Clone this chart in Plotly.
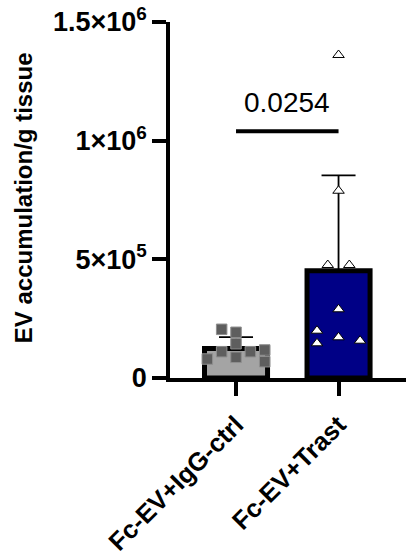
import numpy as np
import plotly.graph_objects as go

# Groups and measured EV accumulation per gram of tissue
categories = ["Fc-EV+IgG-ctrl", "Fc-EV+Trast"]
igg_ctrl = [205200, 192600, 144500, 110800, 110800, 118000, 80000, 87200, 68700]
trast = [1361000, 789000, 476000, 476000, 289500, 199300, 171500, 146200, 157200]

# Horizontal spread of the individual points within each bar (category units)
igg_jitter = [-0.14, 0.0, 0.0, -0.14, 0.14, 0.28, -0.28, 0.0, 0.28]
trast_jitter = [0.0, 0.0, -0.105, 0.105, 0.0, -0.21, 0.0, -0.21, 0.21]

p_value_text = "0.0254"
y_tickvals = [0, 5e5, 1e6, 1.5e6]
y_ticktext = ["0", "5×10<sup>5</sup>", "1×10<sup>6</sup>", "1.5×10<sup>6</sup>"]
y_title = "EV accumulation/g tissue"

groups = [igg_ctrl, trast]
means = [float(np.mean(g)) for g in groups]
sds = [float(np.std(g, ddof=1)) for g in groups]

FONT = "Arial, 'Liberation Sans', sans-serif"
bar_fills = ["#a4a4a4", "#000086"]

fig = go.Figure()

fig.add_trace(go.Bar(
    x=[0, 1],
    y=means,
    width=0.615,
    marker=dict(color=bar_fills, line=dict(color="black", width=5)),
    error_y=dict(type="data", symmetric=False, array=sds, arrayminus=[0, 0],
                 color="black", thickness=1.8, width=17),
    showlegend=False,
))

fig.add_trace(go.Scatter(
    x=[0 + j for j in igg_jitter],
    y=igg_ctrl,
    mode="markers",
    marker=dict(symbol="square", size=10.5, color="#5e5e5e",
                line=dict(color="#8e8e8e", width=1)),
    cliponaxis=False,
    showlegend=False,
))

fig.add_trace(go.Scatter(
    x=[1 + j for j in trast_jitter],
    y=trast,
    mode="markers",
    marker=dict(symbol="triangle-up", size=10, color="white",
                line=dict(color="black", width=1)),
    cliponaxis=False,
    showlegend=False,
))

# Significance bracket between the two groups
bracket_y = 1.04e6
fig.add_shape(type="line", xref="x", yref="y", x0=0, x1=1, y0=bracket_y, y1=bracket_y,
              line=dict(color="black", width=4))
fig.add_annotation(x=0.5, y=bracket_y, xref="x", yref="y", text=p_value_text,
                   showarrow=False, yanchor="bottom", yshift=11,
                   font=dict(family=FONT, size=28, color="black"))

# Rotated y-axis title
fig.add_annotation(x=-0.62, y=0.507, xref="paper", yref="paper", text=f"<b>{y_title}</b>",
                   textangle=-90, showarrow=False, xanchor="center", yanchor="middle",
                   font=dict(family=FONT, size=24, color="black"))

fig.update_layout(
    width=406, height=557,
    margin=dict(l=170, r=0, t=22, b=179),
    paper_bgcolor="white", plot_bgcolor="white",
    xaxis=dict(
        range=[-0.644, 1.658], tickvals=[0, 1],
        ticktext=[f"<b>{c}</b>" for c in categories],
        tickangle=-45, showgrid=False, zeroline=False, automargin=False,
        showline=True, linecolor="black", linewidth=3.5,
        ticks="outside", ticklen=14, tickwidth=3.5, tickcolor="black",
        ticklabelstandoff=4,
        tickfont=dict(family=FONT, size=25.5, color="black"),
    ),
    yaxis=dict(
        range=[0, 1.5e6], tickvals=y_tickvals, ticktext=[f"<b>{t}</b>" for t in y_ticktext],
        showgrid=False, zeroline=False, automargin=False,
        showline=True, linecolor="black", linewidth=3.5,
        ticks="outside", ticklen=14, tickwidth=3.5, tickcolor="black",
        tickfont=dict(family=FONT, size=27, color="black"),
    ),
)

fig.write_html("out.html")
